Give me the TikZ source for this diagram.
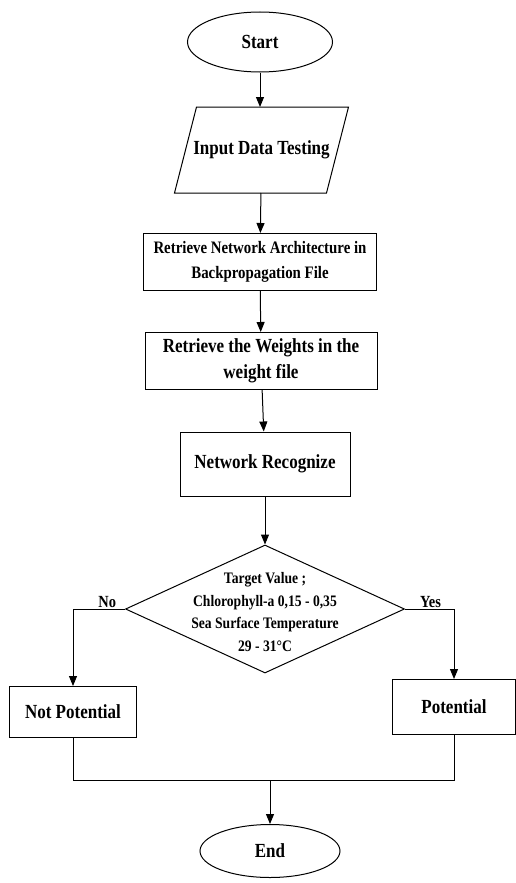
\documentclass[tikz,border=0pt]{standalone}
\usepackage{fontspec}
\setmainfont{Liberation Serif}[FakeStretch=0.85]
\usetikzlibrary{arrows.meta, positioning, shapes.geometric, calc}

\tikzset{
  flow/.style={draw, line width=1pt, align=center, inner sep=0pt,
    font=\bfseries\fontsize{20}{26}\selectfont},
  term/.style={flow, ellipse, minimum width=145pt, minimum height=60pt},
  io/.style={flow, draw=none, rectangle, minimum width=151pt, minimum height=85pt},
  proc/.style={flow, rectangle},
  decision/.style={draw, line width=1pt, diamond, minimum width=279pt,
    minimum height=128pt, inner sep=0pt},
  dectext/.style={align=center, font=\bfseries\fontsize{16}{22.5}\selectfont},
  arr/.style={line width=1pt, -{Triangle[length=10pt,width=8pt]}},
  link/.style={line width=1pt},
  answer/.style={font=\bfseries\fontsize{17}{20}\selectfont, inner sep=1pt},
}

\begin{document}
\begin{tikzpicture}[x=1pt, y=-1pt]
        \useasboundingbox (0,0) rectangle (515,883);
        % main column
        \node[term] (start) at (260,42) {Start};
        \node[io] (input) at (261.5,150) {Input Data Testing};
        \draw[link] ($(input.north west)+(11,0)$) -- ($(input.north east)+(11,0)$)
          -- ($(input.south east)+(-11,0)$) -- ($(input.south west)+(-11,0)$) -- cycle;
        \node[proc, minimum width=233pt, minimum height=57pt,
          font=\bfseries\fontsize{17.5}{25}\selectfont] (arch) at (260,262)
          {Retrieve Network Architecture in\\Backpropagation File};
        \node[proc, minimum width=232pt, minimum height=57pt] (weight) at (261,361)
          {Retrieve the Weights in the\\weight file};
        \node[proc, minimum width=170pt, minimum height=64pt] (recog) at (265,464)
          {Network Recognize};
        \node[decision] (dec) at (265,609) {};
        \node[dectext] (dectxt) at (265,612)
          {Target Value ;\\Chlorophyll-a 0,15 - 0,35\\Sea Surface Temperature\\29 - 31\textdegree C};
        % the two outcomes
        \node[proc, minimum width=127pt, minimum height=51pt] (notpot) at (73,712) {Not Potential};
        \node[proc, minimum width=123pt, minimum height=55pt] (pot) at (454,707) {Potential};
        \node[term, minimum width=140pt, minimum height=53pt] (end) at (270,851) {End};
        \coordinate (join) at (270,780);

        \draw[arr] (start) -- (start |- input.north);
        \draw[arr] (input) -- (arch);
        \draw[arr] (arch) -- (weight);
        \draw[arr] (weight) -- (recog);
        \draw[arr] (recog) -- (dec);
        \draw[arr] (dec.west) -| node[answer, pos=0.17, above] {No} (notpot.north);
        \draw[arr] (dec.east) -| node[answer, pos=0.26, above] {Yes} (pot.north);
        \draw[link] (notpot.south) |- (join) -| (pot.south);
        \draw[arr] (join) -- (end);
    \end{tikzpicture}
\end{document}
